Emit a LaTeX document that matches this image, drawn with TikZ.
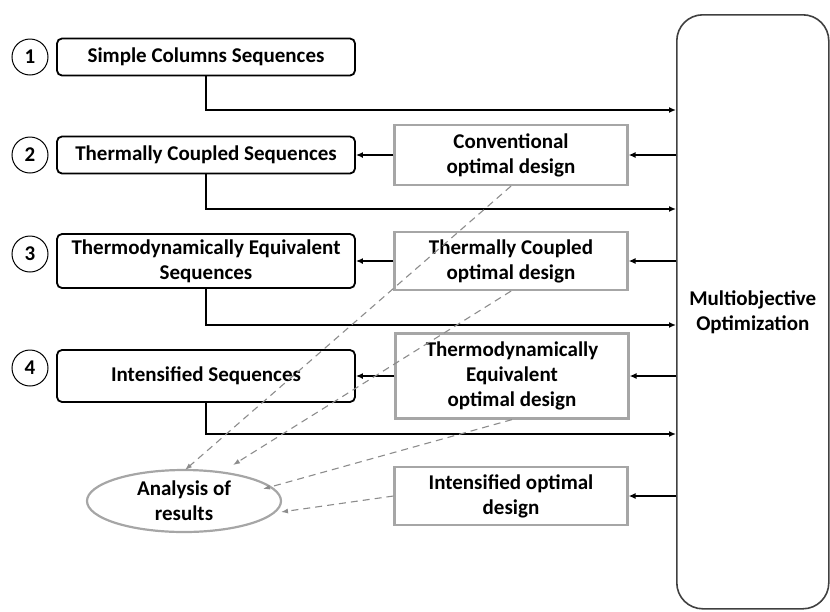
\documentclass[tikz,border=0pt]{standalone}
\usepackage{fontspec}
\setmainfont{Carlito}
\usetikzlibrary{arrows.meta,shapes.geometric}
\definecolor{gbox}{HTML}{A6A6A6}
\definecolor{gdash}{HTML}{8C8C8C}
\begin{document}
\begin{tikzpicture}[x=1pt,y=-1pt,
  font=\fontsize{21}{25}\selectfont\bfseries,
  seqbox/.style={draw=black,line width=1.8pt,rounded corners=5pt,minimum width=298pt,align=center,inner sep=1pt},
  optbox/.style={draw=gbox,line width=2.2pt,minimum width=233pt,align=center,inner sep=1pt},
  numc/.style={circle,draw=black,line width=1pt,minimum size=36pt,inner sep=0pt},
  feed/.style={line width=1.8pt,-{Latex[length=7pt,width=6pt]}},
  back/.style={line width=1.8pt,-{Latex[length=7pt,width=6pt]}},
  dashlink/.style={draw=gdash,line width=1.1pt,dash pattern=on 7pt off 5pt,-{Latex[length=7pt,width=5pt]}}
]
\useasboundingbox (0,0) rectangle (830,611);
% big box
\node[draw=black!75,line width=1.6pt,rounded corners=26pt,minimum width=152pt,minimum height=594pt,anchor=north west,align=center] (mo) at (676,14) {Multiobjective\\Optimization};
% circles
\node[numc] (c1) at (30,57) {1};
\node[numc] (c2) at (30,155) {2};
\node[numc] (c3) at (30,254) {3};
\node[numc] (c4) at (30,368) {4};
% sequence boxes
\node[seqbox,minimum height=37pt] (s1) at (206,57) {Simple Columns Sequences};
\node[seqbox,minimum height=37pt] (s2) at (206,155) {Thermally Coupled Sequences};
\node[seqbox,minimum height=54pt] (s3) at (206,261) {Thermodynamically Equivalent\\Sequences};
\node[seqbox,minimum height=52pt] (s4) at (206,376) {Intensified Sequences};
% optimal design boxes
\node[optbox,minimum height=60pt] (o1) at (511,155) {Conventional\\optimal design};
\node[optbox,minimum height=58pt] (o2) at (511,261) {Thermally Coupled\\optimal design};
\node[optbox,minimum height=85pt] (o3) at (512,376) {Thermodynamically\\Equivalent\\optimal design};
\node[optbox,minimum height=58pt] (o4) at (511,496) {Intensified optimal\\design};
% ellipse
\node[ellipse,draw=gbox,line width=2.2pt,minimum width=194pt,minimum height=62pt,inner sep=0pt,align=center] (an) at (184,501) {Analysis of\\results};
% coordinates
\coordinate (m1) at (676,110);
\coordinate (m2) at (676,209);
\coordinate (m3) at (676,325);
\coordinate (m4) at (676,434);
% feeds
\draw[feed] (s1.south) |- (m1);
\draw[feed] (s2.south) |- (m2);
\draw[feed] (s3.south) |- (m3);
\draw[feed] (s4.south) |- (m4);
% back arrows
\draw[back] (mo.west |- o1.east) -- (o1.east);
\draw[back] (mo.west |- o2.east) -- (o2.east);
\draw[back] (mo.west |- o3.east) -- (o3.east);
\draw[back] (mo.west |- o4.east) -- (o4.east);
\draw[back] (o1.west) -- (s2.east);
\draw[back] (o2.west) -- (s3.east);
\draw[back] (o3.west) -- (s4.east);
% dashed
\coordinate (t1) at (185,470);
\coordinate (t2) at (233,465);
\coordinate (t3) at (263,489);
\coordinate (t4) at (281,512);
\draw[dashlink] (o1.south) -- (t1);
\draw[dashlink] (o2.south) -- (t2);
\draw[dashlink] (o3.south) -- (t3);
\draw[dashlink] (o4.west) -- (t4);
\end{tikzpicture}
\end{document}
